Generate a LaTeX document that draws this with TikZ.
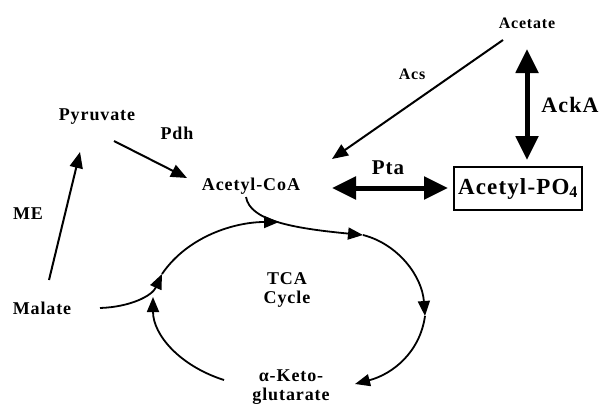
\documentclass[tikz,border=0pt]{standalone}
\usepackage{fontspec}
\setmainfont{Liberation Serif}[LetterSpace=5]
\usetikzlibrary{arrows.meta}
\begin{document}
\begin{tikzpicture}[x=1pt,y=-1pt,
  lbl/.style={font=\bfseries\fontsize{18}{19}\selectfont, inner sep=0pt, align=center},
  conn/.style={line width=2pt, -{Triangle[length=16pt,width=13pt]}},
  cyc/.style={line width=1.8pt, -{Triangle[length=15pt,width=12pt]}},
  fat/.style={line width=5pt, {Triangle[length=24pt,width=22pt]}-{Triangle[length=24pt,width=22pt]}}
]
\useasboundingbox[fill=white] (0,0) rectangle (601,404);

\node[lbl] (pyr) at (97,117) {Pyruvate};
\node[lbl] (pdh) at (177,133) {Pdh};
\node[lbl] (acoa) at (251,186) {Acetyl-CoA};
\node[lbl,font=\bfseries\fontsize{16}{17}\selectfont] (acet) at (527,23) {Acetate};
\node[lbl,font=\bfseries\fontsize{16}{17}\selectfont] (acs) at (412,74) {Acs};
\node[lbl,font=\bfseries\fontsize{22}{23}\selectfont] (acka) at (570,105) {AckA};
\node[lbl,font=\bfseries\fontsize{21}{22}\selectfont] (pta) at (388,168) {Pta};
\node[lbl,font=\bfseries\fontsize{23}{24}\selectfont, draw, line width=1.5pt, minimum width=128pt, minimum height=43pt] (ap) at (518,188.5) {Acetyl-PO\textsubscript{4}};
\node[lbl] (me) at (28,214) {ME};
\node[lbl] (mal) at (42,308) {Malate};
\node[lbl] (tca) at (287,290) {TCA\\Cycle};
\node[lbl] (akg) at (291,387) {α-Keto-\\glutarate};

% connector ends
\coordinate (me1) at (49,280);
\coordinate (me2) at (80,152);
\coordinate (pd1) at (114,141);
\coordinate (pd2) at (187,178);
\coordinate (ac1) at (503,40);
\coordinate (ac2) at (332,159);
\coordinate (ak1) at (527,49);
\coordinate (ak2) at (527,160);
\coordinate (pt1) at (332,188);
\coordinate (pt2) at (448,188);

\draw[conn] (me1) -- (me2);
\draw[conn] (pd1) -- (pd2);
\draw[conn] (ac1) -- (ac2);
\draw[fat] (ak1) -- (ak2);
\draw[fat] (pt1) -- (pt2);

% TCA cycle points
\coordinate (c0) at (224,380);
\coordinate (c1) at (153,297);
\coordinate (c2) at (162,274);
\coordinate (c3) at (279,222);
\coordinate (c4) at (363,235);
\coordinate (c5) at (425,316);
\coordinate (c6) at (355,384);
\coordinate (m0) at (100,308);
\coordinate (a0) at (246,197);

\draw[cyc] (c0) .. controls (180,366) and (153,335) .. (c1);
\draw[cyc] (m0) .. controls (130,307) and (152,296) .. (c2);
\draw[cyc] (c2) .. controls (188,236) and (235,222) .. (c3);
\draw[cyc] (a0) .. controls (250,220) and (290,228) .. (c4);
\draw[cyc] (c4) .. controls (398,244) and (422,276) .. (c5);
\draw[cyc] (c5) .. controls (420,352) and (393,374) .. (c6);
\end{tikzpicture}
\end{document}
